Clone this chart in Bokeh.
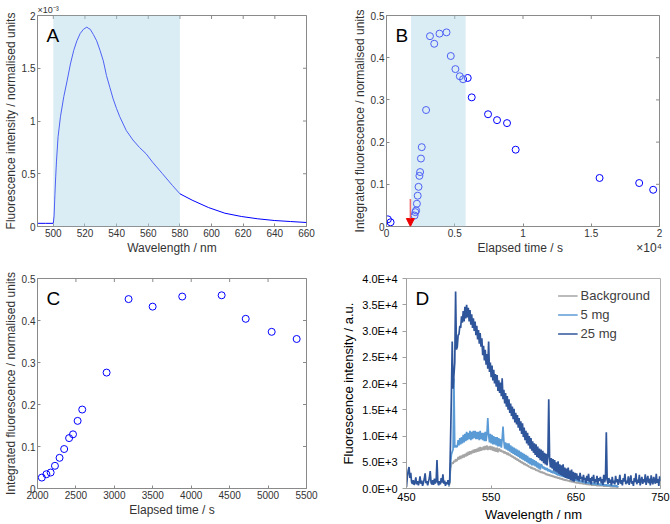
import numpy as np
from bokeh.plotting import figure
from bokeh.models import (Range1d, FixedTicker, BoxAnnotation, Label, Title,
                          Arrow, NormalHead, Legend, LegendItem)
from bokeh.layouts import row, column
from bokeh.embed import file_html
from bokeh.resources import INLINE

FONT = "Liberation Sans"

# ---------------- Panel A: fluorescence spectrum (x1e-3 normalised units)
wl_a = [490, 495, 500, 500.5, 501, 501.5, 502, 503, 504.5, 506.6, 508.7, 510.8, 512.9,
        514.9, 517, 519.1, 521.2, 522, 523.3, 525.3, 527.4, 529.5, 531.6, 533.6, 535.7,
        537.8, 539.9, 542, 546.1, 550.3, 554.4, 558.6, 562.7, 569, 575.2, 580, 587.7,
        598, 608.4, 618.8, 629.2, 639.6, 650, 660]
intensity_a = [0.03, 0.03, 0.03, 0.10, 0.30, 0.47, 0.62, 0.85, 1.04, 1.23, 1.38, 1.54,
               1.67, 1.76, 1.83, 1.87, 1.89, 1.88, 1.87, 1.82, 1.76, 1.67, 1.57, 1.43,
               1.32, 1.21, 1.12, 1.04, 0.91, 0.82, 0.75, 0.69, 0.61, 0.50, 0.39, 0.31,
               0.25, 0.18, 0.126, 0.095, 0.073, 0.057, 0.047, 0.038]
band_a = (500, 580)

# ---------------- Panels B and C: integrated fluorescence vs elapsed time
elapsed_s = [100, 300, 2056, 2116, 2171, 2227, 2287, 2347, 2411, 2462, 2522, 2582, 2899,
             3185, 3498, 3883, 4396, 4709, 5047, 5372, 5610, 5951, 6244, 7439, 8098,
             8829, 9463, 15610, 18512, 19537]
integrated = [0.017, 0.010, 0.026, 0.034, 0.038, 0.054, 0.073, 0.094, 0.120, 0.129,
              0.161, 0.188, 0.276, 0.451, 0.433, 0.457, 0.460, 0.404, 0.373, 0.356,
              0.349, 0.352, 0.306, 0.266, 0.252, 0.245, 0.182, 0.115, 0.103, 0.087]
band_b = (1800, 5800)
arrow_time = 1750
arrow_top = 0.065

# ---------------- Panel D: spectra (thousands of a.u.), 1 nm steps
dark_start = 450
mg25 = [
    0.3, 2.2, 3.4, 4.1, 2.0, 3.0, 1.2, 0.9, 1.6, 0.7,
    1.1, 2.1, 0.8, 1.4, 0.6, 1.2, 2.3, 0.9, 1.5, 0.5,
    1.1, 1.8, 2.9, 1.0, 1.4, 0.6, 1.3, 2.0, 3.3, 1.1,
    0.8, 1.6, 0.7, 1.9, 1.0, 1.3, 5.4, 1.2, 0.6, 1.4,
    0.8, 2.0, 1.1, 2.7, 0.9, 1.5, 0.5, 1.2, 0.8, 1.6,
    0.7, 1.2, 9.0, 17.5, 28.0, 19.0, 21.5, 24.0, 37.5, 26.5,
    27.0, 29.2, 29.4, 31.0, 30.6, 32.8, 31.6, 33.8, 31.8, 34.6,
    32.4, 35.0, 32.6, 34.4, 31.8, 34.0, 31.2, 33.2, 30.6, 32.4,
    30.0, 31.8, 29.2, 31.0, 28.4, 30.2, 27.6, 29.6, 27.0, 28.6,
    25.4, 27.2, 24.4, 26.4, 23.6, 25.6, 22.8, 28.0, 22.2, 24.0,
    21.2, 23.4, 20.6, 22.6, 20.0, 21.8, 19.4, 21.6, 18.6, 20.6,
    18.2, 20.2, 17.6, 21.0, 17.0, 18.8, 16.2, 18.2, 15.6, 17.6,
    15.0, 17.0, 14.4, 16.2, 13.8, 15.6, 13.2, 15.2, 12.6, 14.4,
    12.2, 14.0, 11.6, 13.4, 11.0, 12.8, 10.4, 12.4, 9.8, 11.6,
    9.2, 11.0, 8.6, 10.6, 8.2, 10.0, 7.6, 9.6, 7.2, 9.0,
    6.8, 8.6, 6.4, 8.4, 6.0, 8.0, 5.8, 7.6, 5.4, 7.4,
    5.2, 7.2, 4.8, 6.8, 4.6, 6.6, 4.4, 6.2, 17.0, 5.8,
    4.0, 5.8, 3.8, 5.6, 3.4, 5.4, 3.2, 5.0, 3.0, 5.2,
    2.8, 4.6, 2.6, 4.4, 2.4, 4.6, 2.2, 4.0, 2.0, 3.8,
    1.9, 4.0, 1.8, 3.4, 1.6, 3.6, 1.4, 3.2, 1.3, 3.0,
    1.8, 2.9, 1.6, 2.4, 1.4, 3.0, 1.8, 2.2, 1.2, 2.6,
    1.6, 2.0, 1.0, 2.4, 1.4, 2.8, 1.2, 2.0, 0.8, 2.2,
    1.4, 2.6, 1.0, 1.8, 1.2, 2.4, 0.8, 2.0, 1.4, 2.2,
    1.0, 1.8, 0.7, 2.6, 1.2, 1.9, 10.7, 1.6, 0.9, 2.0,
    1.1, 1.7, 0.6, 2.2, 1.0, 1.5, 0.8, 2.4, 1.2, 1.8,
    0.7, 1.4, 2.6, 0.9, 1.6, 0.6, 2.0, 1.3, 2.8, 0.8,
    1.5, 1.0, 2.3, 0.7, 1.6, 2.5, 0.9, 1.4, 0.5, 2.0,
    1.2, 2.9, 0.8, 1.7, 1.1, 2.6, 0.6, 1.5, 2.2, 0.9,
    1.8, 1.2, 2.7, 0.7, 1.6, 2.4, 1.0, 1.9, 0.6, 2.5,
    1.3, 0.8, 2.2, 1.4, 0.9, 2.8, 1.1, 1.8, 0.5, 2.3, 1.4]
light_start = 500
mg5 = [
    0.5, 1.5, 4.5, 6.4, 7.0, 7.4, 21.0, 7.8, 8.2, 7.9,
    8.0, 9.2, 8.2, 9.6, 8.4, 9.8, 8.6, 10.2, 8.8, 10.4,
    9.0, 10.8, 9.2, 10.6, 9.4, 11.0, 9.2, 10.8, 9.4, 11.0,
    9.6, 11.0, 9.4, 10.8, 9.4, 10.8, 9.2, 11.0, 9.4, 10.6,
    9.2, 10.6, 9.0, 10.8, 9.0, 10.4, 13.4, 10.2, 8.8, 10.4,
    8.6, 10.2, 8.4, 10.0, 8.4, 9.8, 8.2, 9.8, 8.0, 9.6,
    8.0, 9.4, 7.8, 9.4, 11.8, 9.0, 7.6, 8.8, 7.4, 8.6,
    7.2, 8.6, 7.0, 8.2, 6.8, 8.0, 6.6, 7.8, 6.4, 7.6,
    6.2, 7.4, 6.0, 7.2, 5.8, 7.0, 5.6, 6.8, 5.4, 6.6,
    5.2, 6.4, 5.0, 6.2, 4.8, 5.9, 4.6, 5.8, 4.4, 5.6,
    4.4, 5.4, 4.2, 5.2, 4.0, 5.0, 3.8, 4.8, 3.6, 4.6,
    4.4, 3.8, 4.2, 3.6, 4.0, 3.5, 3.9, 3.3, 3.7, 3.2,
    3.6, 3.0, 3.4, 2.9, 3.3, 2.8, 3.2, 2.6, 3.0, 2.5,
    2.9, 2.4, 2.8, 2.3, 2.6, 2.2, 2.5, 2.1, 2.4, 2.0,
    2.3, 1.9, 2.2, 1.8, 2.1, 1.7, 2.0, 1.6, 1.9, 1.5,
    1.8, 1.4, 1.7, 1.3, 1.6, 1.2, 1.5, 1.2, 1.4, 1.1,
    1.4, 1.0, 1.3, 1.0, 1.2, 0.9, 1.2, 0.9, 1.1, 0.8,
    1.1, 0.8, 1.0, 0.7, 1.0, 0.7, 0.9, 0.7, 0.9, 0.6,
    0.9, 0.6, 0.8, 0.6, 0.8, 0.5, 0.8, 0.5, 0.7, 0.5,
    0.7, 0.5, 0.7, 0.4, 0.6, 0.4, 0.6, 0.4, 0.6, 0.3, 0.5]
gray_start = 500
background = [
    0.3, 1.0, 3.8, 4.6, 5.0, 4.7, 5.3, 5.0, 5.6, 5.2,
    5.4, 6.0, 5.5, 6.2, 5.6, 6.3, 5.8, 6.5, 5.9, 6.6,
    6.1, 6.8, 6.2, 7.0, 6.4, 7.1, 6.5, 7.2, 6.7, 7.4,
    6.8, 7.5, 6.9, 7.6, 7.0, 7.8, 7.1, 7.9, 7.2, 7.8,
    7.3, 8.0, 7.3, 8.1, 7.4, 8.2, 7.3, 8.0, 7.4, 8.1,
    7.3, 8.0, 7.2, 7.9, 7.1, 7.8, 7.0, 7.8, 6.9, 7.6,
    7.5, 7.0, 7.4, 6.9, 7.2, 6.7, 7.1, 6.6, 6.9, 6.4,
    6.8, 6.3, 6.6, 6.1, 6.4, 5.9, 6.2, 5.7, 6.0, 5.5,
    5.8, 5.3, 5.6, 5.1, 5.4, 4.9, 5.2, 4.7, 5.0, 4.5,
    4.8, 4.4, 4.6, 4.2, 4.4, 4.0, 4.2, 3.8, 4.1, 3.7,
    3.9, 3.6, 3.8, 3.4, 3.6, 3.3, 3.5, 3.1, 3.3, 3.0,
    3.2, 2.9, 3.1, 2.8, 2.9, 2.6, 2.8, 2.5, 2.7, 2.4,
    2.6, 2.3, 2.5, 2.2, 2.4, 2.1, 2.3, 2.0, 2.2, 1.9,
    2.1, 1.8, 2.0, 1.7, 1.9, 1.6, 1.8, 1.5, 1.7, 1.5,
    1.6, 1.4, 1.5, 1.3, 1.5, 1.2, 1.4, 1.2, 1.3, 1.1,
    1.2, 1.0, 1.2, 1.0, 1.1, 0.9, 1.1, 0.9, 1.0, 0.8,
    1.0, 0.8, 0.9, 0.7, 0.9, 0.7, 0.8, 0.7, 0.8, 0.6,
    0.8, 0.6, 0.7, 0.6, 0.7, 0.5, 0.7, 0.5, 0.6, 0.5,
    0.6, 0.5, 0.6, 0.4, 0.6, 0.4, 0.5, 0.4, 0.5, 0.4,
    0.5, 0.3, 0.5, 0.3, 0.4, 0.3, 0.4, 0.3, 0.4, 0.2, 0.4]
legend_names = ["Background", "5 mg", "25 mg"]
d_yticks = [0, 5, 10, 15, 20, 25, 30, 35, 40]
d_ylabels = ["0.0E+0", "5.0E+3", "1.0E+4", "1.5E+4", "2.0E+4", "2.5E+4", "3.0E+4",
             "3.5E+4", "4.0E+4"]

BOX = "#8a8a8a"
TXT = "#333333"
SHADE = "#add8e6"
NB = "\u00a0"


def matlab_fig(xr, yr, xt, yt, xlab, ylab, xlabel, ylabel, bl, br, bt, bb):
    p = figure(width=335, height=262, x_range=Range1d(*xr), y_range=Range1d(*yr),
               output_backend="svg", toolbar_location=None,
               min_border_left=bl, min_border_right=br, min_border_top=bt,
               min_border_bottom=bb)
    p.xgrid.grid_line_color = None
    p.ygrid.grid_line_color = None
    p.outline_line_color = BOX
    p.outline_line_width = 1
    for ax, ticks, labs, title in ((p.xaxis[0], xt, xlab, xlabel), (p.yaxis[0], yt, ylab, ylabel)):
        ax.ticker = FixedTicker(ticks=ticks)
        ax.major_label_overrides = dict(zip(ticks, labs))
        ax.axis_label = title
        ax.axis_label_text_font = FONT
        ax.axis_label_text_font_size = "12px"
        ax.axis_label_text_font_style = "normal"
        ax.axis_label_text_color = TXT
        ax.axis_label_standoff = 1
        ax.major_label_text_font = FONT
        ax.major_label_text_font_size = "10px"
        ax.major_label_text_color = TXT
        ax.major_label_standoff = 2
        ax.axis_line_color = BOX
        ax.major_tick_line_color = BOX
        ax.major_tick_in = 3
        ax.major_tick_out = 0
        ax.minor_tick_line_color = None
    # inward ticks on the top and right edges of the box (half of each dash is clipped)
    p.scatter(xt, [yr[1]] * len(xt), marker="dash", angle=np.pi / 2, size=7,
              line_color=BOX, line_width=1)
    p.scatter([xr[1]] * len(yt), yt, marker="dash", size=7, line_color=BOX, line_width=1)
    return p


def letter(p, txt, x, y):
    p.add_layout(Label(x=x, y=y, text=txt, x_offset=9, y_offset=-9, text_baseline="top",
                       text_font=FONT, text_font_size="19px", text_color="black"))


# ---- A
pA = matlab_fig((490, 660), (0, 2), list(range(500, 661, 20)), [0, 0.5, 1, 1.5, 2],
                [str(v) for v in range(500, 661, 20)], ["0", "0.5", "1", "1.5", "2"],
                "Wavelength / nm", "Fluorescence intensity / normalised units", 33, 29, 15, 36)
pA.line(wl_a, intensity_a, line_color="#0000ff", line_width=1)
pA.add_layout(BoxAnnotation(left=band_a[0], right=band_a[1], fill_color=SHADE,
                            fill_alpha=0.45, line_alpha=0))
pA.add_layout(Title(text="×10⁻³", align="left", text_font=FONT, text_font_size="9px",
                    text_font_style="normal", text_color=TXT, standoff=1), "above")
letter(pA, "A", 490, 2)

# ---- B
b_xt = [0, 5000, 10000, 15000, 20000]
yt_bc = [0, 0.1, 0.2, 0.3, 0.4, 0.5]
yl_bc = ["0", "0.1", "0.2", "0.3", "0.4", "0.5"]
b_xlabel = NB * 28 + "Elapsed time / s" + NB * 22 + "×10⁴"
pB = matlab_fig((0, 20000), (0, 0.5), b_xt, yt_bc, ["0", "0.5", "1", "1.5", "2"], yl_bc,
                b_xlabel, "Integrated fluorescence / normalised units", 51, 11, 15, 36)
pB.scatter(elapsed_s, integrated, marker="circle", size=7, fill_color=None,
           line_color="#0000ff", line_width=1)
pB.add_layout(BoxAnnotation(left=band_b[0], right=band_b[1], fill_color=SHADE,
                            fill_alpha=0.45, line_alpha=0))
pB.add_layout(Arrow(end=NormalHead(size=8, fill_color="#ee0000", line_color="#ee0000"),
                    x_start=arrow_time, y_start=arrow_top, x_end=arrow_time, y_end=0,
                    line_color="#f06a6a", line_width=1.5))
letter(pB, "B", 0, 0.5)

# ---- C
c_xt = list(range(2000, 5501, 500))
pC = matlab_fig((2000, 5500), (0, 0.5), c_xt, yt_bc, [str(v) for v in c_xt], yl_bc,
                "Elapsed time / s", "Integrated fluorescence / normalised units", 33, 29, 15, 34)
pC.scatter(elapsed_s, integrated, marker="circle", size=7, fill_color=None,
           line_color="#0000ff", line_width=1)
letter(pC, "C", 2000, 0.5)

# ---- D
pD = figure(width=335, height=262, x_range=Range1d(450, 750), y_range=Range1d(0, 40),
            output_backend="svg", toolbar_location=None, min_border_left=71,
            min_border_right=10, min_border_top=16, min_border_bottom=35)
pD.xgrid.grid_line_color = None
pD.ygrid.grid_line_color = None
pD.outline_line_color = "#b0b0b0"
x_dark = np.arange(dark_start, dark_start + len(mg25))
x_light = np.arange(light_start, light_start + len(mg5))
x_gray = np.arange(gray_start, gray_start + len(background))
r_bg = pD.line(x_gray, background, line_color="#a5a5a5", line_width=1.7)
r_5 = pD.line(x_light, mg5, line_color="#5b9bd5", line_width=1.7)
r_25 = pD.line(x_dark, mg25, line_color="#2f559a", line_width=1.7)
pD.xaxis.ticker = FixedTicker(ticks=[450, 550, 650, 750])
pD.yaxis.ticker = FixedTicker(ticks=d_yticks)
pD.yaxis.major_label_overrides = dict(zip(d_yticks, d_ylabels))
for ax, title in ((pD.xaxis[0], "Wavelength / nm"), (pD.yaxis[0], "Fluorescence intensity / a.u.")):
    ax.axis_label = title
    ax.axis_label_text_font = FONT
    ax.axis_label_text_font_size = "13px"
    ax.axis_label_text_font_style = "normal"
    ax.axis_label_text_color = "black"
    ax.axis_label_standoff = 3
    ax.major_label_text_font = FONT
    ax.major_label_text_font_size = "11px"
    ax.major_label_text_color = "black"
    ax.axis_line_color = "#a0a0a0"
    ax.major_tick_line_color = "#a0a0a0"
    ax.minor_tick_line_color = None
pD.yaxis.major_tick_in = 0
pD.yaxis.major_tick_out = 4
pD.xaxis.major_tick_in = 3
pD.xaxis.major_tick_out = 0
pD.xaxis.major_label_standoff = 4
legend = Legend(items=[LegendItem(label=n, renderers=[r]) for n, r in
                       zip(legend_names, [r_bg, r_5, r_25])],
                location="top_right", border_line_color=None, background_fill_alpha=0,
                label_text_font=FONT, label_text_font_size="13px", label_text_color="#404040",
                glyph_width=20, glyph_height=15, label_height=15, spacing=4,
                padding=4, margin=10, label_standoff=3)
pD.add_layout(legend)
letter(pD, "D", 450, 40)

layout = column(row(pA, pB), row(pC, pD))
open("out.html", "w").write(file_html(layout, INLINE))
